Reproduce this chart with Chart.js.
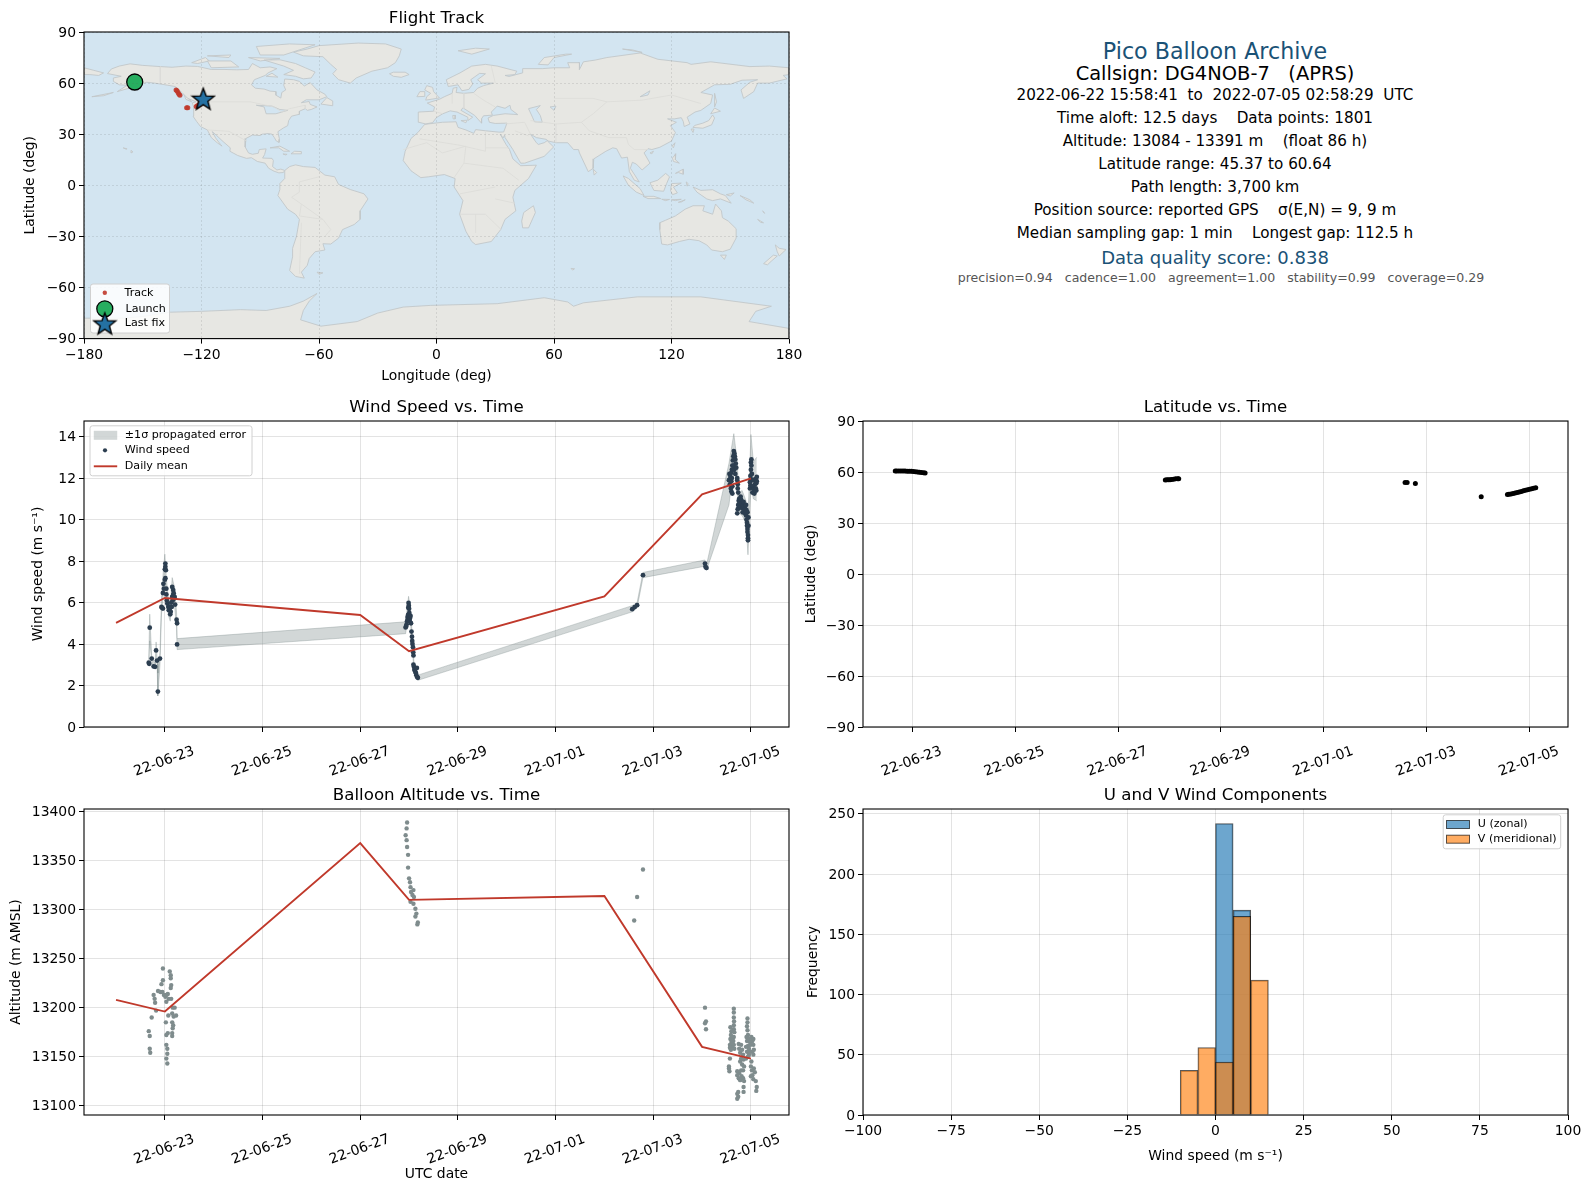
<!DOCTYPE html>
<html>
<head>
<meta charset="utf-8">
<title>Pico Balloon Archive</title>
<script src="https://cdn.jsdelivr.net/npm/chart.js@4"></script>
<style>
  html, body { margin: 0; background: #fff; }
  #page { position: relative; width: 1590px; height: 1189px; overflow: hidden; font-family: "DejaVu Sans", sans-serif; }
  canvas { position: absolute; }
  .info { position: absolute; left: 862px; width: 706px; text-align: center; white-space: pre; transform: translateY(-50%); color: #000; }
</style>
</head>
<body>
<div id="page"></div>
<script>
// x values on the time panels are day numbers counted from June (07-05 = 35)
const dateTicks = [23, 25, 27, 29, 31, 33, 35];
const dateLabels = ['22-06-23', '22-06-25', '22-06-27', '22-06-29', '22-07-01', '22-07-03', '22-07-05'];

const meanDays = [22, 23, 27, 28, 32, 34, 35];
const meanWind = [5.02, 6.22, 5.40, 3.65, 6.30, 11.22, 11.98];
const meanAlt = [13208, 13196, 13368, 13310, 13314, 13160, 13148];

const windPoints = [
  [22.69,4.79],[22.67,3.10],[22.68,3.05],[22.73,3.30],[22.77,2.92],[22.80,2.90],[22.82,3.69],[22.84,3.20],[22.857,1.71],[22.90,3.30],
  [22.93,5.79],[22.94,5.75],[22.96,5.71],[22.96,6.46],[22.98,6.67],[22.97,6.90],[23.00,7.10],[23.01,7.17],[23.00,7.60],[23.01,7.88],
  [23.01,7.72],[23.02,7.56],[23.03,6.67],[23.03,6.39],[23.04,6.10],[23.05,5.95],[23.07,5.79],[23.08,5.63],[23.09,5.80],[23.11,5.43],
  [23.10,5.70],[23.12,5.55],[23.14,5.79],[23.13,6.00],[23.15,6.27],[23.16,6.10],[23.15,6.75],[23.17,6.60],[23.18,6.45],[23.17,6.35],
  [23.19,6.20],[23.20,6.27],[23.21,5.90],[23.24,5.17],[23.25,5.00],[23.25,3.98],
  [27.93,4.80],[27.94,4.85],[27.95,4.95],[27.96,5.10],[27.97,5.30],[27.975,5.20],[27.98,5.40],[27.985,5.75],[27.99,5.98],[27.995,5.85],
  [28.00,5.70],[28.005,5.50],[28.01,5.30],[28.015,5.10],[28.02,5.25],[28.03,5.35],[28.04,5.00],[28.05,4.60],[28.06,4.35],[28.065,4.15],
  [28.07,4.00],[28.08,3.85],[28.085,3.60],[28.09,3.45],[28.09,3.00],[28.10,2.90],[28.11,2.75],[28.12,2.80],[28.13,2.65],[28.14,2.60],
  [28.15,2.50],[28.16,2.85],[28.17,2.40],[28.18,2.37],
  [32.57,5.68],[32.62,5.78],[32.67,5.87],[32.79,7.32],[34.06,7.88],[34.07,7.72],[34.09,7.67],
  [34.55,11.9],[34.56,12.2],[34.57,11.7],[34.58,12.05],[34.59,11.5],[34.60,11.85],[34.60,11.35],[34.61,12.0],[34.62,11.6],[34.62,11.25],
  [34.60,12.25],[34.61,12.4],[34.62,12.6],[34.63,12.85],[34.64,13.05],[34.65,13.3],[34.66,13.2],[34.67,13.05],[34.68,12.9],[34.69,12.7],
  [34.64,12.6],[34.66,12.4],[34.68,12.2],[34.70,12.5],
  [34.72,11.9],[34.73,11.7],[34.73,11.5],[34.74,11.3],[34.72,12.0],
  [34.72,10.3],[34.73,10.5],[34.74,10.7],[34.75,10.9],[34.76,11.0],[34.77,10.8],[34.78,10.6],[34.79,11.1],[34.80,10.95],[34.81,10.75],
  [34.82,10.55],[34.83,10.35],[34.84,10.7],[34.85,10.85],[34.86,10.6],[34.87,10.5],[34.88,10.3],[34.89,10.5],[34.90,10.7],[34.91,10.45],
  [34.90,10.2],[34.91,10.0],[34.92,9.85],[34.92,9.7],[34.93,9.55],[34.93,9.4],[34.94,9.25],[34.94,9.1],[34.94,9.0],[34.95,9.7],[34.95,10.1],[34.93,10.35],
  [34.98,11.5],[34.98,11.8],[34.99,12.1],[35.00,12.4],[35.00,12.75],[35.01,12.9],[35.01,12.6],[35.02,12.2],[35.00,11.95],[34.99,11.65],
  [35.03,11.3],[35.04,11.6],[35.05,11.9],[35.06,11.45],[35.07,11.25],[35.08,11.7],[35.09,11.95],[35.10,11.5],[35.11,11.75],[35.12,12.05],[35.12,11.85],[35.11,11.4]
];

const bandDays = [22.67,22.69,22.73,22.80,22.82,22.84,22.857,22.90,22.93,22.97,23.00,23.03,23.07,23.11,23.15,23.20,23.24,23.25,27.93,27.99,28.03,28.07,28.10,28.18,32.57,32.67,32.79,34.06,34.09,34.55,34.65,34.71,34.76,34.82,34.90,34.94,35.00,35.05,35.12];
const bandLow = [2.95,4.15,3.15,2.80,3.25,3.05,1.50,3.00,5.40,6.50,7.00,6.20,5.40,5.10,6.30,5.80,4.80,3.73,4.50,5.60,5.00,3.70,2.70,2.25,5.55,5.75,7.20,7.75,7.55,10.70,12.60,11.60,10.30,10.20,9.80,8.30,11.60,11.00,10.90];
const bandHigh = [3.25,5.44,3.45,3.05,4.10,3.35,2.60,3.60,6.20,7.60,8.33,7.20,6.20,5.80,7.20,6.70,5.50,4.26,5.07,6.30,5.70,4.30,3.10,2.50,5.85,6.00,7.45,8.05,7.80,12.70,14.14,13.00,11.30,11.40,10.90,10.00,14.10,12.80,13.00];

const latPoints = [
  [22.67,60.6],[22.70,60.64],[22.74,60.6],[22.78,60.55],[22.82,60.6],[22.86,60.55],[22.90,60.5],[22.94,60.5],[22.98,60.4],[23.02,60.3],
  [23.06,60.1],[23.10,60.0],[23.14,59.9],[23.18,59.7],[23.22,59.5],[23.25,59.4],
  [27.92,55.3],[27.95,55.4],[27.98,55.5],[28.01,55.5],[28.04,55.6],[28.08,55.8],[28.12,56.0],[28.16,56.1],[28.18,56.0],
  [32.58,53.8],[32.62,53.8],[32.78,53.2],[34.06,45.4],
  [34.57,46.7],[34.60,46.9],[34.64,47.1],[34.68,47.4],[34.72,47.7],[34.76,48.0],[34.80,48.3],[34.84,48.6],[34.88,48.9],[34.92,49.2],
  [34.96,49.5],[35.00,49.9],[35.04,50.2],[35.08,50.5],[35.12,50.8]
];

const altPoints = [
  [22.67,13176],[22.69,13171],[22.69,13158],[22.70,13154],[22.73,13190],[22.77,13213],[22.79,13209],[22.80,13205],[22.82,13197],[22.86,13217],
  [22.91,13216],[22.95,13216],[22.93,13224],[22.96,13228],[22.96,13240],[22.98,13213],[23.01,13211],[23.03,13213],[23.06,13214],[23.08,13209],
  [23.03,13206],[23.10,13237],[23.12,13233],[23.12,13230],[23.13,13223],[23.12,13220],[23.13,13209],[23.16,13200],[23.20,13200],[23.07,13192],
  [23.15,13194],[23.18,13191],[23.23,13192],[23.02,13185],[23.15,13185],[23.17,13182],[23.16,13179],[23.15,13174],[23.15,13171],[23.06,13174],
  [23.03,13172],[23.03,13162],[23.05,13158],[23.05,13153],[23.03,13148],[23.05,13143],
  [27.96,13389],[27.95,13383],[27.93,13376],[27.95,13371],[27.96,13364],[27.98,13356],[27.98,13343],[28.00,13332],[28.02,13328],[28.03,13323],
  [28.04,13318],[28.09,13320],[28.07,13315],[28.10,13313],[28.03,13308],[28.09,13306],[28.13,13301],[28.15,13296],[28.13,13293],[28.18,13287],[28.17,13285],
  [32.79,13341],[32.67,13313],[32.61,13289],[34.06,13200],[34.08,13186],[34.06,13184],[34.08,13178],
  [34.65,13199],[34.65,13195],[34.65,13190],[34.655,13186],[34.65,13182],[34.65,13178],[34.66,13175],[34.65,13170],[34.64,13166],[34.65,13162],[34.66,13158],
  [34.58,13180],[34.60,13176],[34.59,13172],[34.58,13168],[34.60,13165],[34.57,13162],[34.61,13160],[34.63,13170],[34.62,13163],[34.57,13159],[34.59,13157],
  [34.55,13138],[34.56,13135],[34.55,13140],[34.57,13148],
  [34.75,13163],[34.76,13158],[34.78,13154],[34.80,13162],[34.82,13157],[34.84,13152],[34.80,13148],[34.78,13145],[34.82,13142],[34.85,13147],
  [34.86,13140],[34.84,13136],[34.80,13136],[34.76,13133],[34.72,13135],[34.72,13131],[34.75,13128],[34.78,13126],[34.81,13130],[34.84,13128],
  [34.86,13125],[34.85,13119],[34.85,13114],[34.74,13114],[34.72,13112],[34.74,13109],[34.72,13107],
  [34.93,13189],[34.93,13185],[34.92,13181],[34.93,13177],[34.94,13172],[34.91,13170],[34.96,13168],[34.92,13166],[34.98,13165],[34.94,13161],
  [34.96,13158],[34.90,13160],[34.92,13155],[34.96,13152],[34.99,13162],[34.98,13155],[34.94,13150],[34.90,13148],
  [35.01,13170],[35.03,13166],[35.05,13168],[35.05,13162],[35.06,13157],[35.05,13152],[35.03,13155],[35.01,13145],[35.00,13140],[35.06,13138],
  [35.08,13134],[35.03,13131],[35.05,13127],[35.10,13125],[35.12,13119],[35.11,13115],[35.00,13130],[35.02,13136]
];

// histogram, 5 m/s bins
const binCentres = [-7.5, -2.5, 2.5, 7.5, 12.5];
const uCounts = [null, null, 242, 170, null];
const vCounts = [37, 56, 44, 165, 112];

// map
const trackPoints = [[-133,56],[-132.5,55.5],[-132,54.5],[-131.5,53.5],[-131,52.8],[-127.6,45.5],[-127,45.6],[-122.7,46.3],[-122,46.8],[-121,47.5],[-120.5,48.5],[-119.5,50.2]];
const launchPoint = [[-154.1, 60.64]];
const lastFixPoint = [[-119.1, 50.8]];

// coastlines as lon,lat runs
const landShapes = [
  // North and Central America
  [-168,65.6,-166,68.3,-162,70,-156.5,71.3,-150,70.4,-141,69.7,-135,69.3,-128,70,-122,69.8,-115,68,-108,68,-102,67.8,-96,68,-94,71.5,-90,69,-85,69.5,-81.5,68.5,-86,66,-87.5,64.5,-93,62,-94.5,59,-92.5,57,-88,56.5,-85,55.3,-82,55,-82,52.9,-79.5,51.2,-79,54.5,-77,56,-78,58.7,-77.5,62.4,-73,62,-70,61,-67.5,58.3,-64.5,60.3,-61,56,-57,53.5,-56,52,-60,50.2,-66.5,50.2,-69,48.5,-65,49.2,-64.5,47.5,-61,46,-64,44.5,-66,44,-67,45,-70,43.5,-70,41.7,-74,40.6,-75.5,38,-76,35,-78,33.8,-81,31.5,-80.2,27,-80.4,25.2,-81.8,26,-82.8,28,-84,30,-86,30.4,-89,30,-90,29.2,-94,29.5,-97.3,27.5,-97.7,22.5,-96,19,-94,18.2,-91,18.8,-90.5,21,-87,21.4,-87.8,18,-88.8,16,-84,15.8,-83.3,14.5,-83.7,11,-81.5,9,-79.5,9.5,-77.5,8.7,-78.2,7.5,-80.5,7.3,-83,8.3,-85.7,10,-87.5,13,-91.5,14,-94.5,16.2,-97,15.8,-101.5,17.5,-105.5,20,-105.3,22,-109,25.7,-112.5,29.5,-114.5,31.5,-112.8,27.8,-110.3,24,-109.5,23,-112,25,-115,28,-117,32.5,-120.5,34.5,-122.5,37.5,-124.3,40.5,-124,46,-124.7,48.4,-122.7,49,-127,51,-130,54.5,-133.5,58,-137.5,58.8,-144,60,-148,60.5,-152,59,-157,57,-163,55,-158,58.7,-162,59,-165,61,-165,63,-161,64],
  // South America
  [-77.5,8.7,-75,11,-72,12,-68,11,-62,10.5,-57,6,-52,5,-50,0.5,-44,-2.5,-37,-5,-35,-8,-39,-15,-39,-20,-42,-23,-48,-26,-50,-31,-54,-34.5,-58,-34.3,-57,-38,-62,-39,-65,-43,-66,-47,-69,-51,-67.5,-54.5,-72,-53.5,-75,-50,-73.5,-42,-73.5,-37,-71.5,-30,-70,-20,-72,-17,-76,-14,-81,-6,-80,-2.5,-80,1,-77.5,4,-77.5,8],
  // Eurasia and Africa
  [-9,37,-9.3,43,-1.5,43.5,-1,46,-4.7,48.3,1.5,50.5,4,52,8,54,8.5,57,10.5,57.5,10,54.5,14,54,19,54.5,21,57,24,58.5,29,60,23,60,21,62,25,65.5,22,65.7,17.5,62,18.5,59.5,16.5,56.3,13,55.5,11,59,6,58,5,62,12,66,18,70,25,71,31,70,41,67,40,65,35,64.5,37,63.9,44,66,44,68.5,54,68.5,60,69,68,69,67,72,73,72,73,68,75,72.5,81,73.5,87,75,104,77.7,113,74,128,72,130,71,140,72.5,160,69.7,170,70,180,69,180,65,177,64.5,179,62.5,170,60,164,60,162,55,156.8,51,155.5,56,160,60.5,164,62,156,61.7,150,59.3,142,59,135,54.5,141,53,140,48,135,44,132,43,128,40,129.4,36,126.5,34.5,126,37.5,125,39.7,121.5,39,118,39,122.5,37,119.5,35,122,31,120,26,114,22.3,110,21,108,21.5,106,19,109,13,105,9,102,12.5,100,13.5,99,10,103.5,2,101,3,98.5,8,97.5,16.5,94.5,16,92,21.5,90,22,86.5,20,80.3,15.5,80,10,77.5,8,73,19,72.5,21,70,21,67,25,61,25,57,26,56,27,51,28,48,30,51,25,52,24,55,25,56.5,26.2,59.8,22.5,55,17,45,13,43,13,39,21,35,28,34.8,29.5,34,27.8,32.6,29.9,35.5,24,37.3,21,39,15.5,43,11.5,51,11.8,47,4,40,-3,39,-7,40.5,-15,35,-20,32.8,-26,28,-33,20,-34.8,18,-33,15,-27,11.8,-17,13.5,-9,9,-1,9.5,4,4,6.3,-4,5,-8,4.5,-13,8.5,-17,14.5,-16,20,-13,27.5,-9.5,31,-6,35.8,3,37,10,37.3,11,34,15,32.5,19,30.5,20,32.7,25,32,32,31.2,34.3,31.3,36,36.5,30,36.3,27,37,26.3,39.5,29,41,35,42,41.5,41.5,38,44.5,37.5,47,35,45.2,31,46.5,28,43,28.5,41.2,24,40.8,23,39,23,36.5,19.5,41,13.5,45.5,12.5,44,18.5,40,16,38,16,40,10.5,43,7,43.7,3.2,42,0,39.8,-2,36.8,-5.5,36],
  // Chukotka across the date line
  [-180,69,-175,67.5,-170,66,-172.5,64.5,-177,65,-180,65],
  // Arctic Canada and Greenland
  [-80,73.7,-72,71.5,-67,69,-62,66.5,-64,63,-68,62.5,-72,64,-78,65,-73,67.5,-78,70,-88,73.5],
  [-117,73,-105,73,-101,69.5,-115,69],
  [-125,72,-118,75,-116,73,-122,71.5],
  [-90,76.5,-78,76.5,-62,82.5,-75,83,-92,81.5],
  [-96,75,-80,74.5,-90,73],
  [-117,76,-106,75,-105,76.5],
  [-87,64,-81,63.5,-84,65.8],
  [-59,47.7,-53,46.7,-53,49.5,-56,51.5],
  [-73,78.2,-68,76,-58,75.5,-54,71,-51,68,-53,65.5,-50,62,-44,60,-41,63,-33,67,-25,69,-21,72,-19,76,-18,80,-26,83,-40,83.5,-60,82,-66,80],
  // Caribbean, Pacific, south Atlantic
  [-85,22,-80,23,-75,20,-78,20,-80.5,22],
  [-74.3,18.5,-69,18.5,-69,19.8,-72.5,20],
  [-78.4,18.4,-76.3,18.2,-77,17.8],
  [-156,20.5,-155,19.6,-156,19],
  [-160,22,-158,21.4,-158.5,21.2],
  [-129,53.5,-125,49,-128,50.5],
  [-176,52,-165,54.5,-170,52.6],
  [-61,-51,-58,-51.4,-60,-52.3],
  // Europe and north Atlantic islands
  [-5.5,50,1.5,51.3,-1.5,55,-2,57.5,-5,58.5,-6,56,-3,54,-5,52],
  [-10,52,-6,52.2,-6,55,-8.5,55],
  [-24,65.5,-22,64,-18,63.4,-14,65,-16,66.4,-22,66.4],
  [11,79,20,80.5,27,80,18,77],
  [52,71,57,70.7,60,75,69,77,66,77,55,75],
  [95,80,105,78,100,79.5],
  [8.3,41,9.7,41,9.5,39,8.5,39],
  [12.5,38,15.5,38.2,15,36.7],
  // east and south-east Asia
  [142,54,143,49,142,46,142,50],
  [130.9,34,136,33.5,140.5,35.5,142,39.5,141,41.3,139,38,136,36.5,132,35.2],
  [140,42,145,43.5,142,45.4],
  [130,33,131.5,33,131,31],
  [120.2,23,121.8,25,121,22],
  [109,19,110.8,20,110,18.5],
  [120.5,16,122.2,18.5,122,15,124,13,121,14],
  [122,7,126,9.5,126,6.5,123.5,7.5],
  [80,9.5,81.8,7.5,80.5,6],
  [109,1.5,113,3,117,7,119,5,117.5,1,116,-3.5,111,-3],
  [95.3,5.5,98,4,104,-2,106,-6,102,-4,98,0],
  [105.5,-6.5,111,-6.5,114.5,-7.8,108,-7.8],
  [115,-8.2,119,-8.3,117,-9],
  [120,-8.5,125,-8.2,122,-9],
  [123.5,-10,127,-8.5,125,-9.8],
  [120,1,125,1.3,121,-1,123,-4.5,120.5,-5.5,119.5,-3],
  [127.5,2,128.5,1,128,-0.5],
  [131,-1,135,-3,141,-2.6,145,-5,147.5,-6,150.5,-10.5,145,-8,141,-9,138,-8,133,-4],
  [148,-5.5,152,-4.5,150,-6.3],
  [155,-6,160,-8.5,162,-10.5,158,-8.5],
  [164,-20,167,-22,165.5,-21.8],
  [166.5,-15,167.5,-16.5,167,-15.5],
  // Oceania, Madagascar, Kerguelen
  [114,-22,114,-26,115,-34.5,118,-35,124,-33,129,-31.7,134,-32.5,138,-35,140.5,-38,146,-39,150,-37.5,153,-31,153,-25.5,149,-21,146,-19,145.5,-15,142.5,-11,141,-17,136,-15,136.8,-12,131,-12,127,-14,122,-18,117,-20.5],
  [145,-41,148,-41,147,-43.5],
  [167,-46,172,-41,174,-41.5,171,-44.5,169,-46.7],
  [173,-35,175,-37,178.5,-37.7,175,-41.5,174,-39],
  [49.5,-12,50.5,-16,47,-25,44,-25,43.5,-21,44.5,-16],
  [68.7,-48.8,70.5,-49,69.5,-49.8],
  // Antarctica
  [-180,-90,-180,-78,-160,-78,-150,-77,-136,-74.5,-120,-74,-100,-73,-87,-73.5,-75,-71,-68,-68,-61,-63.5,-65,-68,-68,-73.5,-69.4,-79,-59,-82.7,-40.5,-80,-30,-75,-17,-71.5,-3,-70.5,31,-69.5,55,-66,67,-68.5,70,-71,75,-69,102.5,-65.5,135,-65.5,171,-71,163,-74,159.6,-80,180,-84,180,-90]
];
const lakeShapes = [
  [47,45,53,46.8,51,44.5,53,41,54,37,50,37.3,49,40],
  [-92,47,-84,46.5,-80,44.5,-76,44,-82,42,-87,42,-88,46],
  [58,46,61,46.5,60,44],
  [104,52,109,55.5,108,53]
];
const borderLines = [
  [-141,69.7,-141,60.3],[-123,49,-95,49,-83,46,-79,43,-75,45,-67,47,-67,45],[-117,32.5,-106,31.7,-97,26],
  [-8.7,27.3,12,23.5,25,20,25,31.5],[-17,21,-5,25,3,19,15,23],[25,22,37,22],[15,23,14,13,9,4.5],[34,10,42,3],[30,-1,12,-5],[12,-17,25,-17,33,-26],[20,-28,20,-17],[30,-8,40,-10.5],[14,13,34,10],
  [19,54,24,50,30,46],[-1.5,43.5,3.2,42],[8,48,8,54],[14,54,14,45],[28,70,30,60],
  [60,51,80,51,87,49,105,50,120,53,135,48],[87,49,80,42,74,37,61,36,48,38],[74,37,78,32,88,28,97,28,98,24,101,21,108,21],[61,25,61,36],[35,36,45,37,48,30],[40,32,47,29],
  [-70,-18,-58,-20,-54,-26,-57,-30],[-70,-18,-69,-11,-74,-7,-70,-4,-70,2,-60,5],[-69,-22,-70,-52],[-58,-20,-69,-11]
];

const infoLines = [
  ['Pico Balloon Archive', 50.8, 22.2, '#1a5276'],
  ['Callsign: DG4NOB-7   (APRS)', 73.3, 19.44, '#000'],
  ['2022-06-22 15:58:41  to  2022-07-05 02:58:29  UTC', 95.3, 15.2, '#000'],
  ['Time aloft: 12.5 days    Data points: 1801', 118.3, 15.2, '#000'],
  ['Altitude: 13084 - 13391 m    (float 86 h)', 141, 15.2, '#000'],
  ['Latitude range: 45.37 to 60.64', 164.3, 15.2, '#000'],
  ['Path length: 3,700 km', 187, 15.2, '#000'],
  ['Position source: reported GPS    σ(E,N) = 9, 9 m', 210.3, 15.2, '#000'],
  ['Median sampling gap: 1 min    Longest gap: 112.5 h', 233.3, 15.2, '#000'],
  ['Data quality score: 0.838', 256.7, 18, '#1a5276'],
  ['precision=0.94   cadence=1.00   agreement=1.00   stability=0.99   coverage=0.29', 277, 12.55, '#555', 6]
];

const FONT = '"DejaVu Sans", sans-serif';
const RED = '#c0392b', NAVY = '#2c3e50', SLATE = '#7f8c8d', BLUE = '#2471a3', GREEN = '#27ae60';
const GRID = 'rgba(0,0,0,0.11)';
const BAND = 'rgba(127,140,141,0.35)';
const page = document.getElementById('page');

Chart.defaults.font.family = FONT;
Chart.defaults.font.size = 13.9;
Chart.defaults.color = '#000';
Chart.defaults.animation = false;
Chart.defaults.events = [];
Chart.defaults.plugins.legend.display = false;
Chart.defaults.plugins.tooltip.enabled = false;

infoLines.forEach(function (l) {
  const d = document.createElement('div');
  d.className = 'info';
  d.textContent = l[0];
  d.style.top = l[1] + 'px';
  d.style.fontSize = l[2] + 'px';
  d.style.color = l[3];
  if (l[4]) d.style.marginLeft = l[4] + 'px';
  page.appendChild(d);
});

function xy(rows) { return rows.map(function (r) { return { x: r[0], y: r[1] }; }); }
function zip(xs, ys) { return xs.map(function (x, i) { return { x: x, y: ys[i] }; }); }
function run(flat, close) {
  const out = [];
  for (let i = 0; i < flat.length; i += 2) out.push({ x: flat[i], y: flat[i + 1] });
  if (close) out.push({ x: flat[0], y: flat[1] });
  return out;
}
function minus(v) { return String(v).replace('-', '\u2212'); }

function starCanvas(size) {
  const c = document.createElement('canvas');
  c.width = c.height = size;
  const g = c.getContext('2d');
  const mid = size / 2, outer = mid - 1.5, inner = outer * 0.42;
  g.beginPath();
  for (let i = 0; i < 10; i++) {
    const r = i % 2 ? inner : outer;
    const a = -Math.PI / 2 + i * Math.PI / 5;
    g.lineTo(mid + r * Math.cos(a), mid + 1 + r * Math.sin(a));
  }
  g.closePath();
  g.fillStyle = BLUE;
  g.fill();
  g.lineWidth = 1.4;
  g.strokeStyle = '#000';
  g.stroke();
  return c;
}
const star = starCanvas(26);

// black box round the plot, and the optional sea colour under it
function framePlugin(sea) {
  return {
    id: 'frame',
    beforeDraw(chart) {
      if (!sea) return;
      const a = chart.chartArea;
      chart.ctx.fillStyle = sea;
      chart.ctx.fillRect(a.left, a.top, a.right - a.left, a.bottom - a.top);
    },
    afterDraw(chart) {
      const a = chart.chartArea, ctx = chart.ctx;
      ctx.save();
      ctx.strokeStyle = '#000';
      ctx.lineWidth = 1.1;
      ctx.strokeRect(a.left, a.top, a.right - a.left, a.bottom - a.top);
      ctx.restore();
    }
  };
}

// legend inside the axes, box and rows in page pixels
function insetLegend(box, rows) {
  return {
    id: 'insetLegend',
    afterDraw(chart) {
      const ctx = chart.ctx;
      const ox = parseFloat(chart.canvas.style.left), oy = parseFloat(chart.canvas.style.top);
      ctx.save();
      ctx.translate(-ox, -oy);
      ctx.fillStyle = 'rgba(255,255,255,0.85)';
      ctx.strokeStyle = '#d0d0d0';
      ctx.lineWidth = 1;
      ctx.beginPath();
      ctx.roundRect(box.x, box.y, box.w, box.h, 2.5);
      ctx.fill();
      ctx.stroke();
      rows.forEach(function (r) {
        ctx.save();
        r.mark(ctx, r.y);
        ctx.restore();
        ctx.fillStyle = '#000';
        ctx.font = '11.1px ' + FONT;
        ctx.textBaseline = 'middle';
        ctx.textAlign = 'left';
        ctx.fillText(r.text, r.x, r.y);
      });
      ctx.restore();
    }
  };
}
function dotMark(x, radius, colour, edge) {
  return function (ctx, y) {
    ctx.beginPath();
    ctx.arc(x, y, radius, 0, Math.PI * 2);
    ctx.fillStyle = colour;
    ctx.fill();
    if (edge) { ctx.lineWidth = 1.3; ctx.strokeStyle = edge; ctx.stroke(); }
  };
}
function patchMark(x, w, h, colour, edge) {
  return function (ctx, y) {
    ctx.fillStyle = colour;
    ctx.fillRect(x, y - h / 2, w, h);
    if (edge) { ctx.lineWidth = 1; ctx.strokeStyle = edge; ctx.strokeRect(x, y - h / 2, w, h); }
  };
}
function lineMark(x, w, colour) {
  return function (ctx, y) {
    ctx.strokeStyle = colour;
    ctx.lineWidth = 1.9;
    ctx.beginPath();
    ctx.moveTo(x, y);
    ctx.lineTo(x + w, y);
    ctx.stroke();
  };
}

function setTicks(values) {
  return function (scale) { scale.ticks = values.map(function (v) { return { value: v }; }); };
}
function linearAxis(min, max, values, opts) {
  const width = opts.width, height = opts.height;
  return {
    type: 'linear',
    min: min,
    max: max,
    offset: false,
    afterBuildTicks: setTicks(values),
    afterFit(scale) {
      if (width) scale.width = width;
      if (height) scale.height = height;
      scale.paddingLeft = scale.paddingRight = scale.paddingTop = scale.paddingBottom = 0;
    },
    grid: { offset: false, color: opts.grid || GRID, tickColor: '#000', tickLength: 5, lineWidth: 1, z: opts.z || 0 },
    border: { display: false, dash: opts.dash },
    title: { display: !!opts.title, text: opts.title, padding: 0, font: { size: 13.9 } },
    ticks: Object.assign({ autoSkip: false, padding: 3, maxRotation: 0, minRotation: 0, labelOffset: width ? 1 : 0, callback: minus, font: { size: 13.9 } }, opts.ticks || {})
  };
}
function dateAxis(min, max, height, title) {
  return linearAxis(min, max, dateTicks, {
    height: height,
    title: title,
    ticks: {
      minRotation: 20, maxRotation: 20, labelOffset: 29, padding: 11,
      callback(v) { return dateLabels[dateTicks.indexOf(v)]; }
    }
  });
}

// plot = the axes rectangle in page pixels; left/bottom = room kept for tick labels and titles
function panel(id, plot, left, bottom, titleText, type, datasets, scales, plugins) {
  const top = 30, right = 25;
  const c = document.createElement('canvas');
  c.id = id;
  c.width = plot.w + left + right;
  c.height = plot.h + top + bottom;
  c.style.left = (plot.x - left) + 'px';
  c.style.top = (plot.y - top) + 'px';
  page.appendChild(c);
  return new Chart(c, {
    type: type,
    data: { datasets: datasets },
    options: {
      responsive: false,
      layout: { padding: { right: right } },
      scales: scales,
      plugins: {
        title: { display: true, fullSize: false, text: titleText, color: '#000', font: { size: 16.67, weight: 'normal' }, padding: { top: 7, bottom: 3 } }
      }
    },
    plugins: plugins
  });
}

function scatterSet(points, colour, radius, order) {
  return { type: 'scatter', data: points, backgroundColor: colour, borderWidth: 0, pointRadius: radius, order: order };
}
function lineSet(points, colour, width, order) {
  return { type: 'scatter', showLine: true, data: points, borderColor: colour, borderWidth: width, pointRadius: 0, tension: 0, fill: false, order: order };
}
function shapeSet(flat, fillColour, order) {
  return { type: 'scatter', showLine: true, data: run(flat, true), fill: 'shape', backgroundColor: fillColour, borderColor: '#c2c7c9', borderWidth: 0.9, pointRadius: 0, tension: 0, order: order };
}

// Flight Track
const LAND = '#e7e7e3', SEA = '#d3e5f1';
const MAP_GRID = 'rgba(90,90,90,0.15)';
const mapSets = [];
landShapes.forEach(function (s) { mapSets.push(shapeSet(s, LAND, 10)); });
lakeShapes.forEach(function (s) { mapSets.push(shapeSet(s, SEA, 9)); });
borderLines.forEach(function (s) { mapSets.push(lineSet(run(s, false), '#dcdcd8', 0.8, 8)); });
mapSets.push(scatterSet(xy(trackPoints), 'rgba(192,57,43,0.9)', 2.5, 3));
mapSets.push({ type: 'scatter', data: xy(launchPoint), backgroundColor: GREEN, borderColor: '#000', borderWidth: 1.3, pointRadius: 8, order: 2 });
mapSets.push({ type: 'scatter', data: xy(lastFixPoint), pointStyle: star, pointRadius: 10, order: 1 });

panel('mapChart', { x: 83.5, y: 31.5, w: 705, h: 307 }, 62, 46.4, 'Flight Track', 'scatter', mapSets, {
  x: linearAxis(-180, 180, [-180, -120, -60, 0, 60, 120, 180], { height: 46.4, title: 'Longitude (deg)', z: 1, dash: [2, 2], grid: MAP_GRID }),
  y: linearAxis(-90, 90, [-90, -60, -30, 0, 30, 60, 90], { width: 62, title: 'Latitude (deg)', z: 1, dash: [2, 2], grid: MAP_GRID })
}, [framePlugin(SEA), insetLegend({ x: 90, y: 283.5, w: 79, h: 49 }, [
  { text: 'Track', x: 124, y: 292.3, mark: dotMark(104.3, 2.2, 'rgba(192,57,43,0.9)') },
  { text: 'Launch', x: 125, y: 308.3, mark: dotMark(104.3, 8, GREEN, '#000') },
  { text: 'Last fix', x: 124.3, y: 323, mark: function (ctx, y) { ctx.drawImage(star, 104.3 - 13, y - 13); } }
])]);

// Wind Speed vs. Time
panel('windChart', { x: 83.5, y: 420.7, w: 705, h: 306.6 }, 54, 60, 'Wind Speed vs. Time', 'scatter', [
  Object.assign(lineSet(zip(bandDays, bandHigh), BAND, 1, 5), { fill: '+1', backgroundColor: BAND }),
  lineSet(zip(bandDays, bandLow), BAND, 1, 6),
  scatterSet(xy(windPoints), NAVY, 2.4, 3),
  lineSet(zip(meanDays, meanWind), RED, 1.9, 1)
], {
  x: dateAxis(21.344, 35.78, 60),
  y: linearAxis(0, 14.75, [0, 2, 4, 6, 8, 10, 12, 14], { width: 54, title: 'Wind speed (m s\u207B\u00B9)' })
}, [framePlugin(), insetLegend({ x: 89.5, y: 425.5, w: 162, h: 50 }, [
  { text: '\u00B11\u03C3 propagated error', x: 124.3, y: 435, mark: patchMark(93.3, 23.4, 9, BAND) },
  { text: 'Wind speed', x: 124.3, y: 450, mark: dotMark(104.5, 2.1, NAVY) },
  { text: 'Daily mean', x: 124.3, y: 466, mark: lineMark(93.3, 23.4, RED) }
])]);

// Latitude vs. Time
panel('latChart', { x: 862.5, y: 420.7, w: 705, h: 306.6 }, 60, 60, 'Latitude vs. Time', 'scatter', [
  scatterSet(xy(latPoints), '#000', 2.5, 1)
], {
  x: dateAxis(22.043, 35.747, 60),
  y: linearAxis(-90, 90, [-90, -60, -30, 0, 30, 60, 90], { width: 60, title: 'Latitude (deg)' })
}, [framePlugin()]);

// Balloon Altitude vs. Time
panel('altChart', { x: 83.5, y: 808.5, w: 705, h: 306.2 }, 76, 68, 'Balloon Altitude vs. Time', 'scatter', [
  scatterSet(xy(altPoints), SLATE, 2.2, 2),
  lineSet(zip(meanDays, meanAlt), RED, 1.9, 1)
], {
  x: dateAxis(21.344, 35.78, 68, 'UTC date'),
  y: linearAxis(13090.4, 13402.8, [13100, 13150, 13200, 13250, 13300, 13350, 13400], { width: 76, title: 'Altitude (m AMSL)' })
}, [framePlugin()]);

// U and V Wind Components
panel('histChart', { x: 862.5, y: 808.5, w: 705, h: 306.2 }, 58, 50, 'U and V Wind Components', 'bar', [
  { label: 'U (zonal)', data: zip(binCentres, uCounts), backgroundColor: 'rgba(31,119,180,0.65)', borderColor: 'rgba(0,0,0,0.65)', borderWidth: 1, barPercentage: 1, categoryPercentage: 1, grouped: false, order: 2 },
  { label: 'V (meridional)', data: zip(binCentres, vCounts), backgroundColor: 'rgba(255,127,14,0.65)', borderColor: 'rgba(0,0,0,0.65)', borderWidth: 1, barPercentage: 1, categoryPercentage: 1, grouped: false, order: 1 }
], {
  x: linearAxis(-100, 100, [-100, -75, -50, -25, 0, 25, 50, 75, 100], { height: 50, title: 'Wind speed (m s\u207B\u00B9)' }),
  y: linearAxis(0, 254, [0, 50, 100, 150, 200, 250], { width: 58, title: 'Frequency' })
}, [framePlugin(), insetLegend({ x: 1442.7, y: 814.3, w: 117.5, h: 34 }, [
  { text: 'U (zonal)', x: 1477.3, y: 824, mark: patchMark(1446, 23, 8, 'rgba(31,119,180,0.65)', 'rgba(0,0,0,0.65)') },
  { text: 'V (meridional)', x: 1477.3, y: 838.7, mark: patchMark(1446, 23, 8, 'rgba(255,127,14,0.65)', 'rgba(0,0,0,0.65)') }
])]);
</script>
</body>
</html>
